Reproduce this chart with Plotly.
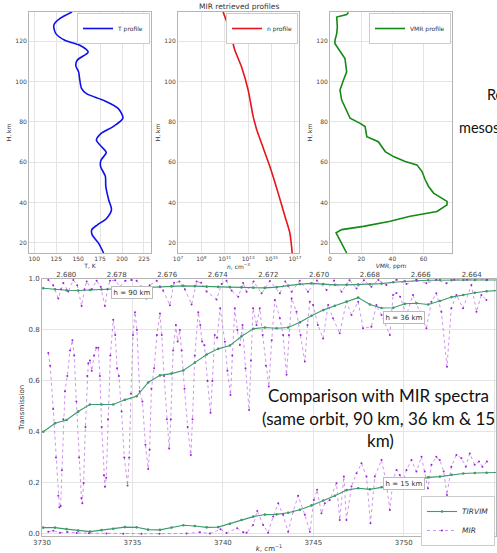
import plotly.graph_objects as go

FIG_W, FIG_H = 497, 553

# ---------------- top row : MIR retrieved profiles ----------------
t_alt = [15, 20, 24, 26.5, 29, 32, 36.5, 41, 48, 53, 58, 61, 64.8, 67.8, 71, 74.4, 77.7,
         81.8, 86.7, 90.8, 94, 96.6, 100.7, 104.8, 108, 110.6, 114.7, 118, 120.5, 123.8,
         128, 131.2, 134.5]
t_kelvin = [179, 173, 166, 165.5, 172, 182, 188, 185, 181.5, 181, 175.5, 176, 182, 176.5,
            170.8, 176.5, 189.8, 201, 195.5, 178.4, 159.5, 153.8, 151.9, 150.5, 147.3,
            148.9, 161.4, 151.9, 134.8, 124.6, 122.3, 129, 143]

n_alt = [15, 24.9, 33.2, 44.7, 57.9, 69.4, 76, 82.6, 95.8, 107.3, 115.6, 125.4, 134.5]
n_density = [5.9e16, 3.7e16, 1.4e16, 3.7e15, 7.2e14, 1.4e14, 5.5e13, 2.7e13, 1.0e13,
             2.7e12, 7.2e11, 2.7e11, 7.2e10]

vmr_alt = [15, 20, 25, 26.6, 28.2, 30.7, 33.2, 35.6, 38.9, 40.6, 44.7, 48, 51.3, 55.4,
           58.7, 60.4, 62.8, 65.3, 67.8, 70.2, 72.7, 77.7, 79.3, 81.8, 90.8, 95.8, 100.7,
           104.8, 111.4, 118.8, 120.5, 123.8, 127.1, 132, 133.3, 134.3]
vmr_ppm = [10.7, 7.5, 3.9, 7.5, 21.4, 38.6, 51.4, 68.6, 75, 75, 66.4, 63.2, 61, 59,
           55.7, 48.2, 40.7, 35.4, 33.2, 31, 23.6, 22.5, 19.3, 12.9, 7.5, 6.4, 8.6,
           10.7, 9.6, 3.2, 3.2, 4.3, 4.7, 4.3, 10.7, 11.8]

alt_ticks = [20, 40, 60, 80, 100, 120]
t_ticks = [100, 125, 150, 175, 200, 225]
n_ticks = [1e7, 1e9, 1e11, 1e13, 1e15, 1e17]
n_ticktext = ["10<sup>7</sup>", "10<sup>9</sup>", "10<sup>11</sup>", "10<sup>13</sup>",
              "10<sup>15</sup>", "10<sup>17</sup>"]
vmr_ticks = [0, 20, 40, 60]

# ---------------- bottom : transmission spectra ----------------
k_tirvim = [3730.07, 3730.72, 3731.36, 3732.00, 3732.65, 3733.29, 3733.94, 3734.58,
            3735.23, 3735.87, 3736.52, 3737.16, 3737.81, 3738.45, 3739.10, 3739.74,
            3740.39, 3741.03, 3741.68, 3742.32, 3742.97, 3743.61, 3744.26, 3744.90,
            3745.55, 3746.19, 3746.84, 3747.48, 3748.13, 3748.77, 3749.42, 3750.06,
            3750.71, 3751.35, 3752.00, 3752.64, 3753.29, 3753.93, 3754.58, 3755.22]
tirvim_90 = [0.964, 0.960, 0.956, 0.955, 0.957, 0.959, 0.961, 0.963, 0.964, 0.966,
             0.969, 0.971, 0.973, 0.972, 0.970, 0.969, 0.968, 0.967, 0.966, 0.965,
             0.968, 0.974, 0.980, 0.983, 0.980, 0.977, 0.977, 0.978, 0.979, 0.982,
             0.987, 0.991, 0.993, 0.995, 0.996, 0.996, 0.996, 0.996, 0.996, 0.996]
tirvim_36 = [0.401, 0.434, 0.447, 0.480, 0.508, 0.508, 0.508, 0.526, 0.540, 0.594,
             0.622, 0.629, 0.641, 0.672, 0.704, 0.726, 0.739, 0.775, 0.805, 0.810,
             0.807, 0.810, 0.830, 0.856, 0.878, 0.895, 0.912, 0.927, 0.900, 0.886,
             0.887, 0.903, 0.905, 0.900, 0.914, 0.929, 0.937, 0.946, 0.952, 0.955]
tirvim_15 = [0.025, 0.025, 0.019, 0.013, 0.009, 0.015, 0.020, 0.027, 0.026, 0.017,
             0.016, 0.025, 0.034, 0.031, 0.026, 0.027, 0.040, 0.055, 0.068, 0.076,
             0.077, 0.083, 0.095, 0.112, 0.131, 0.150, 0.172, 0.179, 0.175, 0.183,
             0.193, 0.199, 0.212, 0.222, 0.225, 0.232, 0.237, 0.239, 0.240, 0.241]

k_mir_90 = [3730.35, 3730.62, 3730.90, 3731.05, 3731.18, 3731.45, 3731.73, 3731.95,
            3732.19, 3732.35, 3732.47, 3732.75, 3733.02, 3733.25, 3733.48, 3733.62,
            3733.76, 3734.05, 3734.31, 3734.60, 3734.95, 3735.23, 3735.51, 3735.78,
            3735.95, 3736.34, 3736.70, 3737.07, 3737.30, 3737.60, 3737.90, 3738.27,
            3738.55, 3738.80, 3739.10, 3739.65, 3739.93, 3740.20, 3740.48, 3740.85,
            3741.12, 3741.31, 3741.70, 3742.14, 3742.60, 3743.15, 3743.45, 3743.80,
            3744.25, 3744.71, 3745.20, 3745.73, 3746.15, 3746.56, 3747.00, 3747.39,
            3747.80, 3748.21, 3748.60, 3749.04, 3749.60, 3750.15, 3750.70, 3751.25,
            3751.80, 3752.36, 3752.80, 3753.50, 3754.60]
mir_90 = [0.996, 0.975, 0.924, 0.960, 0.984, 0.951, 0.996, 0.975,
          0.894, 0.960, 0.990, 0.960, 0.993, 0.970, 0.894, 0.960,
          0.993, 0.995, 0.970, 0.993, 0.996, 0.993, 0.970, 0.924,
          0.975, 0.993, 0.955, 0.897, 0.985, 0.990, 0.960, 0.900,
          0.990, 0.985, 0.951, 0.920, 0.980, 0.993, 0.955, 0.930,
          0.984, 0.950, 0.990, 0.944, 0.992, 0.944, 0.990, 0.950,
          0.993, 0.950, 0.994, 0.957, 0.994, 0.950, 0.995, 0.963,
          0.995, 0.970, 0.996, 0.976, 0.997, 0.980, 0.997, 0.983,
          0.997, 0.983, 0.997, 0.997, 0.997]

k_mir_36 = [3730.35, 3730.45, 3730.62, 3730.77, 3730.90, 3730.96, 3731.03, 3731.10,
            3731.18, 3731.27, 3731.40, 3731.55, 3731.68, 3731.78, 3731.90, 3732.05,
            3732.18, 3732.23, 3732.30, 3732.40, 3732.50, 3732.56, 3732.65, 3732.75,
            3732.88, 3733.00, 3733.11, 3733.20, 3733.30, 3733.42, 3733.48, 3733.55,
            3733.65, 3733.78, 3733.94, 3734.05, 3734.15, 3734.25, 3734.40, 3734.55,
            3734.73, 3734.82, 3734.92, 3735.03, 3735.14, 3735.25, 3735.40, 3735.55,
            3735.72, 3735.87, 3735.95, 3736.05, 3736.20, 3736.35, 3736.52, 3736.62,
            3736.75, 3736.90, 3737.03, 3737.12, 3737.25, 3737.40, 3737.50, 3737.62,
            3737.72, 3737.88, 3738.05, 3738.23, 3738.32, 3738.45, 3738.64, 3738.75,
            3738.85, 3738.98, 3739.15, 3739.32, 3739.42, 3739.55, 3739.68, 3739.85,
            3740.11, 3740.25, 3740.42, 3740.52, 3740.66, 3740.80, 3740.94, 3741.09,
            3741.25, 3741.45, 3741.55, 3741.67, 3741.86, 3742.04, 3742.20, 3742.38,
            3742.54, 3742.70, 3742.87, 3743.15, 3743.33, 3743.52, 3743.65, 3743.80,
            3744.07, 3744.30, 3744.53, 3744.68, 3744.81, 3744.99, 3745.25, 3745.54,
            3745.82, 3746.09, 3746.46, 3746.83, 3747.11, 3747.48, 3747.75, 3748.21,
            3748.49, 3748.77, 3749.23, 3749.41, 3749.60, 3749.80, 3750.15, 3750.51,
            3750.88, 3751.25, 3751.53, 3751.80, 3752.08, 3752.39, 3752.63, 3752.91,
            3753.28, 3753.74, 3754.02, 3754.29, 3754.57]
mir_36 = [0.710, 0.660, 0.490, 0.300, 0.150, 0.105, 0.110, 0.250,
          0.450, 0.560, 0.620, 0.720, 0.760, 0.700, 0.520, 0.300,
          0.140, 0.120, 0.200, 0.420, 0.620, 0.670, 0.680, 0.640,
          0.700, 0.730, 0.730, 0.620, 0.420, 0.230, 0.185, 0.220,
          0.450, 0.700, 0.840, 0.780, 0.650, 0.620, 0.480, 0.300,
          0.190, 0.300, 0.550, 0.780, 0.870, 0.800, 0.560, 0.520,
          0.350, 0.255, 0.330, 0.570, 0.650, 0.780, 0.865, 0.780,
          0.620, 0.450, 0.335, 0.450, 0.720, 0.820, 0.755, 0.800,
          0.720, 0.570, 0.420, 0.310, 0.450, 0.700, 0.870, 0.820,
          0.755, 0.740, 0.600, 0.475, 0.600, 0.780, 0.770, 0.885,
          0.754, 0.640, 0.545, 0.700, 0.885, 0.800, 0.741, 0.820,
          0.650, 0.486, 0.680, 0.885, 0.820, 0.885, 0.780, 0.660,
          0.578, 0.760, 0.918, 0.846, 0.780, 0.624, 0.780, 0.924,
          0.872, 0.780, 0.676, 0.820, 0.911, 0.898, 0.820, 0.767,
          0.898, 0.846, 0.787, 0.911, 0.859, 0.911, 0.807, 0.813,
          0.898, 0.859, 0.780, 0.937, 0.945, 0.930, 0.859, 0.937,
          0.872, 0.807, 0.911, 0.944, 0.872, 0.656, 0.885, 0.937,
          0.885, 0.976, 0.872, 0.937, 0.918]

k_mir_15 = [3730.35, 3730.62, 3730.99, 3731.40, 3731.92, 3732.60, 3733.57, 3734.50,
            3735.50, 3736.50, 3737.99, 3738.73, 3739.28, 3739.87, 3740.20, 3740.79,
            3741.12, 3741.31, 3741.67, 3741.90, 3742.23, 3742.50, 3742.78, 3743.06,
            3743.33, 3743.61, 3743.89, 3744.16, 3744.53, 3744.81, 3745.03, 3745.21,
            3745.45, 3745.64, 3745.91, 3746.28, 3746.46, 3746.69, 3746.83, 3747.11,
            3747.39, 3747.66, 3747.94, 3748.16, 3748.40, 3748.77, 3749.04, 3749.23,
            3749.41, 3749.60, 3749.78, 3749.96, 3750.15, 3750.43, 3750.70, 3750.98,
            3751.16, 3751.34, 3751.53, 3751.80, 3751.99, 3752.21, 3752.39, 3752.63,
            3752.91, 3753.19, 3753.43, 3753.65, 3753.92, 3754.16, 3754.35, 3754.60]
mir_15 = [0.009, 0.013, 0.005, 0.008, 0.004, 0.003, 0.002, 0.001,
          0.001, 0.001, 0.002, 0.007, 0.002, 0.018, 0.004, 0.022,
          0.007, 0.005, 0.035, 0.090, 0.035, 0.005, 0.068, 0.120,
          0.075, 0.009, 0.088, 0.150, 0.075, 0.009, 0.133, 0.173,
          0.081, 0.120, 0.133, 0.199, 0.055, 0.225, 0.055, 0.186,
          0.238, 0.277, 0.225, 0.042, 0.225, 0.290, 0.199, 0.094,
          0.212, 0.251, 0.231, 0.205, 0.251, 0.290, 0.245, 0.303,
          0.245, 0.179, 0.271, 0.303, 0.290, 0.245, 0.153, 0.264,
          0.310, 0.297, 0.264, 0.316, 0.271, 0.284, 0.264, 0.284]

k_ticks = [3730, 3735, 3740, 3745, 3750, 3755]
wavelength_ticks = ["2.680", "2.678", "2.676", "2.674", "2.672", "2.670", "2.668",
                    "2.666", "2.664"]
trans_ticks = [0.0, 0.2, 0.4, 0.6, 0.8, 1.0]


def fx(px):
    return px / FIG_W


def fy(py):
    return 1 - py / FIG_H


PROFILE_FONT = dict(family="DejaVu Sans", size=6, color="#444444")
SPEC_FONT = dict(family="DejaVu Sans", size=7, color="#444444")
SLIDE_FONT = "Lato"

TIRVIM_COLOR = "#3d9a6c"
MIR_COLOR = "#9b1fd6"

fig = go.Figure()

fig.add_trace(go.Scatter(x=t_kelvin, y=t_alt, mode="lines", name="T profile",
                         line=dict(color="#1010e8", width=1.6, shape="spline", smoothing=0.8),
                         xaxis="x", yaxis="y", legend="legend", showlegend=True))
fig.add_trace(go.Scatter(x=n_density, y=n_alt, mode="lines", name="n profile",
                         line=dict(color="#e8141a", width=1.6, shape="spline", smoothing=0.6),
                         xaxis="x2", yaxis="y2", legend="legend2", showlegend=True))
fig.add_trace(go.Scatter(x=vmr_ppm, y=vmr_alt, mode="lines", name="VMR profile",
                         line=dict(color="#138a13", width=1.6),
                         xaxis="x3", yaxis="y3", legend="legend3", showlegend=True))

mir_line = dict(color="rgba(170,60,220,0.55)", width=1, dash="dot")
mir_marker = dict(color=MIR_COLOR, size=2)
fig.add_trace(go.Scatter(x=k_mir_90, y=mir_90, mode="lines+markers", name="<i>MIR</i>",
                         line=mir_line, marker=mir_marker, showlegend=False,
                         xaxis="x5", yaxis="y4", legend="legend4"))
fig.add_trace(go.Scatter(x=k_mir_36, y=mir_36, mode="lines+markers", name="<i>MIR</i>",
                         line=mir_line, marker=mir_marker, legendrank=2, showlegend=True,
                         xaxis="x4", yaxis="y4", legend="legend4"))
fig.add_trace(go.Scatter(x=k_mir_15, y=mir_15, mode="lines+markers", name="<i>MIR</i>",
                         line=mir_line, marker=mir_marker, showlegend=False,
                         xaxis="x4", yaxis="y4", legend="legend4"))

tir_line = dict(color=TIRVIM_COLOR, width=1.1)
tir_marker = dict(color=TIRVIM_COLOR, size=2.6)
for i, vals in enumerate([tirvim_90, tirvim_36, tirvim_15]):
    fig.add_trace(go.Scatter(x=k_tirvim, y=vals, mode="lines+markers", name="<i>TIRVIM</i>",
                             line=tir_line, marker=tir_marker, showlegend=(i == 0),
                             legendrank=1, xaxis="x4", yaxis="y4", legend="legend4"))

axis_common = dict(showline=True, linecolor="#b4b4b4", linewidth=1, mirror=True,
                   showgrid=True, gridcolor="#e4e4e4", gridwidth=1, zeroline=False,
                   ticks="", automargin=False)

top_y_dom = [fy(253), fy(12)]
title_font_small = dict(family="DejaVu Sans", size=6, color="#333333")
title_font_spec = dict(family="DejaVu Sans", size=7, color="#333333")

layout = dict(
    width=FIG_W, height=FIG_H, template="none", showlegend=True,
    margin=dict(l=0, r=0, t=0, b=0, pad=0),
    paper_bgcolor="white", plot_bgcolor="white",
    xaxis=dict(axis_common, domain=[fx(29), fx(151)], anchor="y", range=[94, 233],
               tickvals=t_ticks, tickfont=PROFILE_FONT,
               title=dict(text="T, K", font=title_font_small, standoff=2)),
    yaxis=dict(axis_common, domain=top_y_dom, anchor="x", range=[15, 134.5],
               tickvals=alt_ticks, tickfont=PROFILE_FONT,
               title=dict(text="H, km", font=title_font_small, standoff=3)),
    xaxis2=dict(axis_common, domain=[fx(178), fx(299)], anchor="y2", type="log",
                range=[7, 17.35], tickvals=n_ticks, ticktext=n_ticktext,
                tickfont=PROFILE_FONT,
                title=dict(text="<i>n</i>, cm<sup>−3</sup>", font=title_font_small, standoff=1)),
    yaxis2=dict(axis_common, domain=top_y_dom, anchor="x2", range=[15, 134.5],
                tickvals=alt_ticks, tickfont=PROFILE_FONT,
                title=dict(text="H, km", font=title_font_small, standoff=3)),
    xaxis3=dict(axis_common, domain=[fx(330), fx(452)], anchor="y3", range=[0, 78.2],
                tickvals=vmr_ticks, tickfont=PROFILE_FONT,
                title=dict(text="<i>VMR</i>, ppm", font=title_font_small, standoff=2)),
    yaxis3=dict(axis_common, domain=top_y_dom, anchor="x3", range=[15, 134.5],
                tickvals=alt_ticks, tickfont=PROFILE_FONT,
                title=dict(text="H, km", font=title_font_small, standoff=3)),
    xaxis4=dict(axis_common, domain=[fx(42), fx(496)], anchor="y4", range=[3730, 3755.1],
                tickvals=k_ticks, tickfont=SPEC_FONT,
                title=dict(text="<i>k</i>, cm<sup>−1</sup>", font=title_font_spec, standoff=0)),
    xaxis5=dict(overlaying="x4", anchor="y4", side="top", range=[3730, 3755.1],
                tickvals=[10000 / float(w) for w in wavelength_ticks],
                ticktext=wavelength_ticks, tickfont=SPEC_FONT, showgrid=False,
                showline=False, zeroline=False, ticks="", automargin=False),
    yaxis4=dict(axis_common, domain=[fy(536), fy(279)], anchor="x4", range=[-0.008, 1.0],
                tickvals=trans_ticks, tickformat=".1f", tickfont=SPEC_FONT,
                title=dict(text="Transmission", font=title_font_spec, standoff=3)),
)

leg_common = dict(bgcolor="white", bordercolor="#cccccc", borderwidth=1,
                  xanchor="right", yanchor="top", itemwidth=30, tracegroupgap=0,
                  visible=True)
small_leg_font = dict(family="DejaVu Sans", size=6, color="#333")
layout["legend"] = dict(leg_common, x=fx(150), y=fy(13), font=small_leg_font)
layout["legend2"] = dict(leg_common, x=fx(298), y=fy(13), font=small_leg_font)
layout["legend3"] = dict(leg_common, x=fx(451), y=fy(13), font=small_leg_font)
layout["legend4"] = dict(leg_common, x=fx(495), y=fy(496),
                         font=dict(family="DejaVu Sans", size=7.5, color="#333"))

fig.update_layout(**layout)

ann = []
ann.append(dict(text="MIR retrieved profiles", x=fx(238.5), y=fy(6), xref="paper", yref="paper",
                showarrow=False, font=dict(family="DejaVu Sans", size=7.5, color="#333333"),
                xanchor="center", yanchor="middle"))
for label, cx, cy in [("h = 90 km", 132, 292), ("h = 36 km", 404, 317), ("h = 15 km", 404, 483)]:
    ann.append(dict(text=label, x=fx(cx), y=fy(cy), xref="paper", yref="paper", showarrow=False,
                    font=dict(family="DejaVu Sans", size=7, color="#333333"),
                    bgcolor="white", bordercolor="#bbbbbb", borderwidth=1, borderpad=1.5,
                    xanchor="center", yanchor="middle"))
slide_text = [
    ("Comparison with MIR spectra", 378, 396, "center"),
    ("(same orbit, 90 km, 36 km &amp; 15", 260, 418, "left"),
    ("km)", 380, 440, "center"),
    ("Re", 485, 95, "left"),
    ("mesos", 457, 127, "left"),
]
for txt, px, py, anchor in slide_text:
    size = 17 if py > 300 else 14.5
    ann.append(dict(text=txt, x=fx(px), y=fy(py), xref="paper", yref="paper", showarrow=False,
                    font=dict(family=SLIDE_FONT, size=size, color="#111111"),
                    xanchor=anchor, yanchor="middle"))
fig.update_layout(annotations=ann)

fig.write_html(
    "out.html",
    config={"displayModeBar": False},
    post_script=("document.body.style.margin='0px';document.body.style.padding='0px';"
                 "document.documentElement.style.overflow='hidden';"),
)
